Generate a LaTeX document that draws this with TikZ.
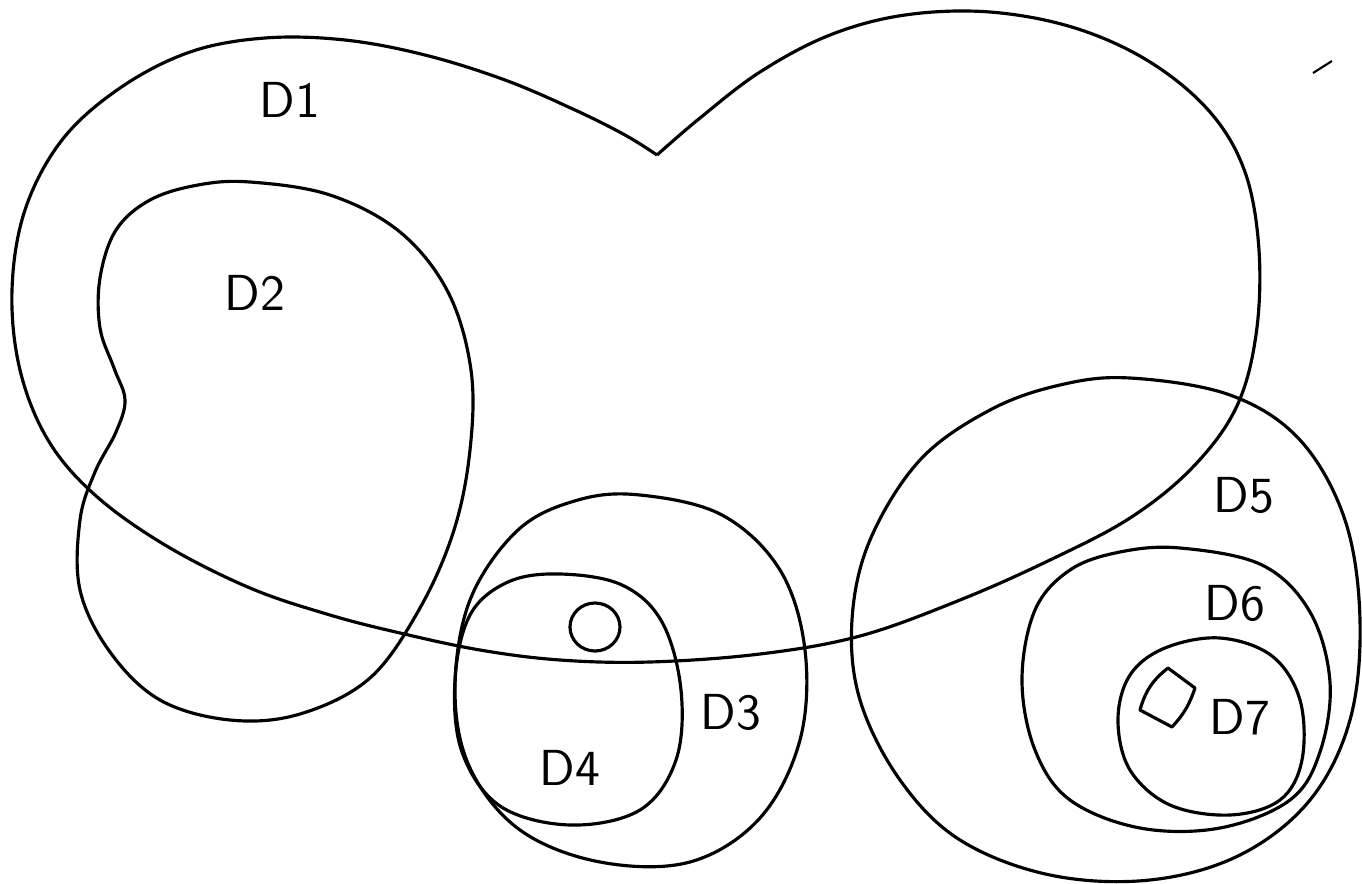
\documentclass[tikz,border=0pt]{standalone}
\usepackage{tikz}
\usetikzlibrary{calc}

\begin{document}
\begin{tikzpicture}[x=0.01cm, y=-0.01cm,
    blob/.style={line width=0.9pt, line join=round},
    lbl/.style={font=\Large\sffamily}]
    \useasboundingbox (0,0) rectangle (1362,884);

    % D1, contorno grande con muesca arriba
    \draw[blob] plot[smooth, tension=0.6] coordinates {
        (657,155) (700,118) (760,72) (830,35) (905,15) (990,12) (1075,28)
        (1150,62) (1210,112) (1245,172) (1259,250) (1256,335) (1236,408)
        (1192,468) (1130,518) (1050,560) (960,600) (860,636) (760,654)
        (650,662) (560,660) (480,650) (400,633) (330,615) (250,588)
        (165,545) (95,495) (48,440) (20,370) (12,290) (25,210) (62,140)
        (120,88) (190,52) (265,38) (345,40) (425,55) (505,80) (575,110)
        (625,135) (657,155)};

    % D2
    \draw[blob] plot[smooth cycle, tension=0.6] coordinates {
        (250,182) (330,195) (400,232) (448,292) (471,370) (470,450)
        (454,530) (420,608) (370,678) (300,714) (230,720) (160,700)
        (110,652) (80,590) (80,520) (95,472) (116,432) (125,400)
        (114,368) (100,328) (100,278) (116,230) (150,200) (198,185)};

    % D3 y D4
    \draw[blob] plot[smooth cycle, tension=0.6] coordinates {
        (640,495) (722,515) (780,570) (805,650) (800,740) (760,818)
        (690,862) (600,862) (520,830) (470,768) (455,690) (470,600)
        (518,530) (578,500)};
    \draw[blob] plot[smooth cycle, tension=0.6] coordinates {
        (560,574) (622,585) (662,622) (681,690) (676,760) (640,810)
        (570,825) (500,806) (462,752) (455,680) (470,615) (508,582)};
    \draw[blob] (595,627) ellipse (25 and 24);

    % D5, D6, D7
    \draw[blob] plot[smooth cycle, tension=0.6] coordinates {
        (1130,378) (1230,395) (1300,440) (1345,520) (1360,620) (1350,720)
        (1310,800) (1240,855) (1150,880) (1050,875) (960,840) (900,780)
        (860,700) (852,620) (870,540) (920,460) (990,410) (1060,385)};
    \draw[blob] plot[smooth cycle, tension=0.6] coordinates {
        (1180,548) (1262,565) (1310,612) (1330,682) (1320,752) (1290,800)
        (1220,828) (1140,828) (1070,800) (1035,750) (1022,680) (1035,610)
        (1070,570) (1120,552)};
    \draw[blob] plot[smooth cycle, tension=0.6] coordinates {
        (1220,638) (1272,656) (1300,700) (1302,760) (1280,800) (1230,815)
        (1170,805) (1130,770) (1118,720) (1130,675) (1165,648)};
    \draw[blob] (1168,668) -- (1195,688) to[bend left=12] (1172,727)
        -- (1140,710) to[bend left=18] cycle;

    % trazo suelto
    \draw[line width=0.6pt] (1313,73) -- (1332,61);

    % Etiquetas
    \foreach \x/\y/\lab in {
        290/100/D1,
        255/293/D2,
        731/712/D3,
        570/768/D4,
        1244/495/D5,
        1235/603/D6,
        1240/717/D7
    } {
        \node[lbl] (\lab) at (\x,\y) {\lab};
    }
\end{tikzpicture}
\end{document}
